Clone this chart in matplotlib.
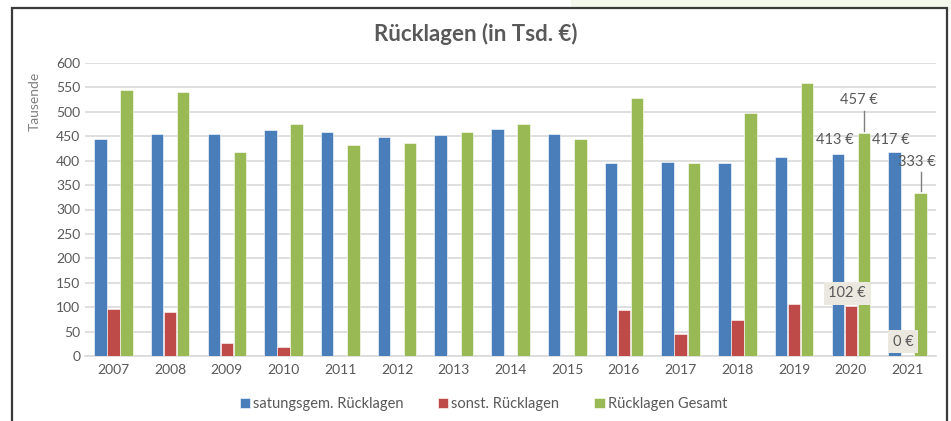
import numpy as np
import matplotlib.pyplot as plt
from matplotlib.patches import Rectangle

plt.rcParams['font.family'] = ['Lato', 'DejaVu Sans']

# data (in thousand EUR)
years = ['2007', '2008', '2009', '2010', '2011', '2012', '2013', '2014',
         '2015', '2016', '2017', '2018', '2019', '2020', '2021']
satzung = [445, 454, 454, 463, 458, 448, 452, 464, 454, 395, 398, 396, 408, 413, 417]
sonst = [97, 91, 27, 19, 0, 0, 0, 0, 0, 94, 45, 73, 106, 102, 0]
gesamt = [544, 541, 418, 475, 433, 437, 458, 475, 445, 528, 396, 498, 559, 457, 333]
series_names = ['satungsgem. Rücklagen', 'sonst. Rücklagen', 'Rücklagen Gesamt']
colors = ['#4a7ebb', '#be4b48', '#98b954']
txt = '#595959'

fig = plt.figure(figsize=(9.51, 4.21), dpi=100)
fig.patch.set_facecolor('white')

# light green tint at top right and the chart frame
fig.add_artist(Rectangle((0.6, 0.975), 0.4, 0.025, transform=fig.transFigure,
                         facecolor='#f4f8ec', edgecolor='none', zorder=-2))
fig.add_artist(Rectangle((0.0125, -0.05), 0.983, 1.03, transform=fig.transFigure,
                         facecolor='white', edgecolor='#3a3a3a', lw=1.6, zorder=-1))

ax = fig.add_axes([85 / 951, 1 - 356 / 421, 851 / 951, 293 / 421])
ax.set_facecolor('none')

x = np.arange(len(years))
w = 0.22
for i, (vals, name) in enumerate(zip([satzung, sonst, gesamt], series_names)):
    ax.bar(x + (i - 1) * 0.23, vals, w, color=colors[i], label=name, zorder=3,
           edgecolor='white', linewidth=0.4)

ax.set_xlim(-0.5, len(years) - 0.5)
ax.set_ylim(0, 600)
ax.set_yticks(range(0, 601, 50))
ax.set_xticks(x)
ax.set_xticklabels(years)
ax.yaxis.grid(True, color='#d9d9d9', linewidth=1.2, zorder=0)
ax.tick_params(axis='both', length=0, colors=txt, labelsize=10)
ax.tick_params(axis='x', pad=6)
for s in ['top', 'right', 'left']:
    ax.spines[s].set_visible(False)
ax.spines['bottom'].set_color('#d9d9d9')
ax.spines['bottom'].set_linewidth(1.2)
ax.set_ylabel('Tausende', color='#7f7f7f', fontsize=10)
ax.yaxis.set_label_coords(-0.052, 0.87)

fig.text(0.5, 0.92, 'Rücklagen (in Tsd. €)', ha='center', va='center',
         fontsize=16, fontweight='bold', color=txt)

# data labels for the last two years
lab = dict(fontsize=10.5, color=txt, ha='center', va='center', zorder=5)
ax.text(12.72, 442, '413 €', **lab)
ax.text(13.70, 442, '417 €', **lab)
ax.text(13.14, 524, '457 €', **lab)
ax.plot([13.23, 13.23], [502, 460], color='#7f7f7f', lw=1, zorder=4)
ax.text(14.17, 397, '333 €', **lab)
ax.plot([14.23, 14.23], [377, 337], color='#7f7f7f', lw=1, zorder=4)
box = dict(boxstyle='square,pad=0.3', facecolor='#ebe9df', edgecolor='none')
ax.text(12.93, 128, '102 €', bbox=box, **lab)
ax.text(13.92, 29, '0 €', bbox=box, **lab)

leg = ax.legend(loc='center', bbox_to_anchor=(0.468, -0.165), ncol=3, frameon=False,
                fontsize=10.5, handlelength=0.7, handleheight=0.7, handletextpad=0.2,
                columnspacing=2.4)
for t in leg.get_texts():
    t.set_color(txt)

fig.savefig('out.png', dpi=100)
